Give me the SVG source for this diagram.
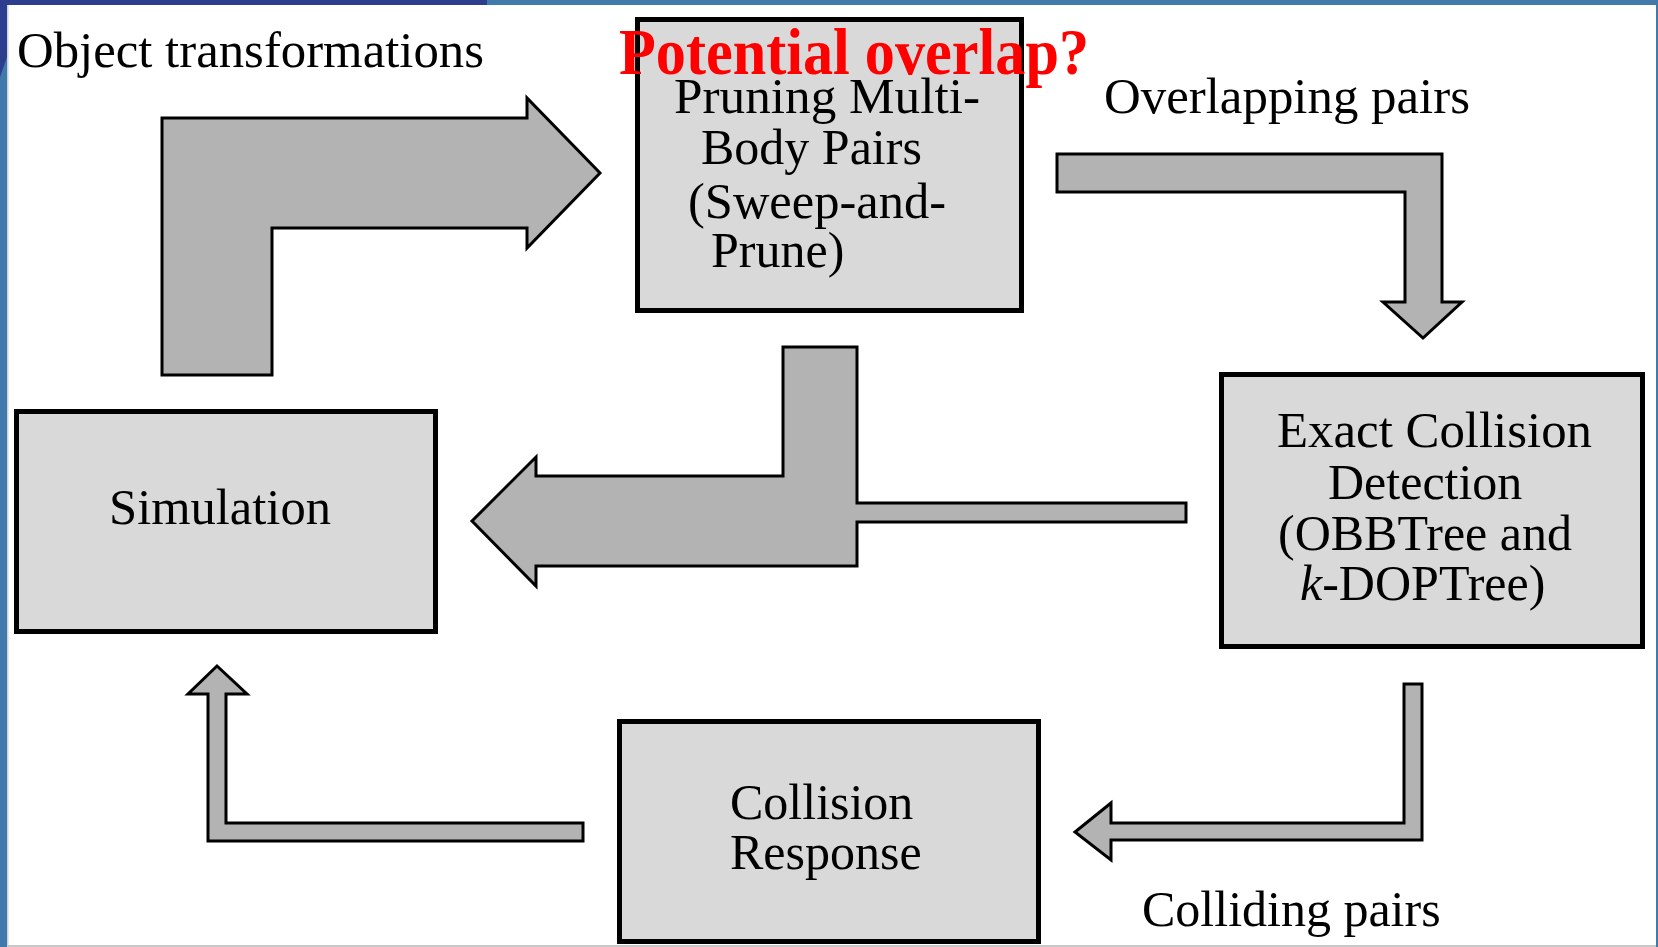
<svg xmlns="http://www.w3.org/2000/svg" width="1658" height="947" viewBox="0 0 1658 947">
<style>
.box{fill:#d9d9d9;stroke:#000;stroke-width:5}
.arr{fill:#b3b3b3;stroke:#000;stroke-width:3;stroke-linejoin:miter}
.t{font-family:"Liberation Serif","Times New Roman",serif;font-size:50px;fill:#000}
.red{font-family:"Liberation Serif","Times New Roman",serif;font-size:65px;font-weight:bold;fill:#ff0000}
</style>
<rect x="0" y="0" width="1658" height="947" fill="#ffffff"/>
<g id="frame">
<rect x="0" y="0" width="1658" height="5" fill="#3f7aab"/>
<rect x="0" y="0" width="487" height="5" fill="#2e3e8e"/>
<rect x="0" y="0" width="7" height="947" fill="#3f7aab"/>
<polygon points="0,0 7,0 7,57 0,77" fill="#2e3e8e"/>
<rect x="7" y="5" width="1.5" height="942" fill="#c9d3dd"/>
<rect x="1656" y="0" width="2" height="947" fill="#3f7aab"/>
<rect x="8" y="945" width="1648" height="2" fill="#c8c8c8"/>
</g>
<g id="connectors">
<polygon class="arr" points="162,375 162,118 527,118 527,98 600,173 527,248 527,228 272,228 272,375"/>
<polygon class="arr" points="1057,154 1442,154 1442,302 1462,302 1423,338 1383,302 1405,302 1405,192 1057,192"/>
<polygon class="arr" points="783,347 857,347 857,503 1186,503 1186,522 857,522 857,566 536,566 536,586 472,521 536,457 536,476 783,476"/>
<polygon class="arr" points="1404,684 1422,684 1422,840 1111,840 1111,860 1075,832 1111,803 1111,823 1404,823"/>
<polygon class="arr" points="583,823 583,841 208,841 208,694 188,694 217,666 247,694 226,694 226,823"/>
</g>
<g id="node-simulation">
<rect class="box" x="16.5" y="411.5" width="419" height="220"/>
<text class="t" x="109" y="524" textLength="222" lengthAdjust="spacingAndGlyphs">Simulation</text>
</g>
<g id="node-pruning">
<rect class="box" x="637.5" y="19.5" width="384" height="291"/>
<text class="t" x="674" y="113" textLength="306" lengthAdjust="spacingAndGlyphs">Pruning Multi-</text>
<text class="t" x="701" y="164">Body Pairs</text>
<text class="t" x="688" y="218" textLength="258" lengthAdjust="spacingAndGlyphs">(Sweep-and-</text>
<text class="t" x="711" y="267">Prune)</text>
</g>
<g id="node-exact">
<rect class="box" x="1221.5" y="374.5" width="421" height="272"/>
<text class="t" x="1277" y="447" textLength="315" lengthAdjust="spacingAndGlyphs">Exact Collision</text>
<text class="t" x="1328" y="499">Detection</text>
<text class="t" x="1278" y="550">(OBBTree and</text>
<text class="t" x="1300" y="600"><tspan font-style="italic">k</tspan>-DOPTree)</text>
</g>
<g id="node-response">
<rect class="box" x="619.5" y="721.5" width="419" height="220"/>
<text class="t" x="730" y="819">Collision</text>
<text class="t" x="730" y="869">Response</text>
</g>
<g id="labels">
<text class="t" x="17" y="67" textLength="467" lengthAdjust="spacingAndGlyphs">Object transformations</text>
<text class="t" x="1104" y="113" textLength="366" lengthAdjust="spacingAndGlyphs">Overlapping pairs</text>
<text class="t" x="1142" y="926">Colliding pairs</text>
<text class="red" x="619" y="74" textLength="470" lengthAdjust="spacingAndGlyphs">Potential overlap?</text>
</g>
</svg>
